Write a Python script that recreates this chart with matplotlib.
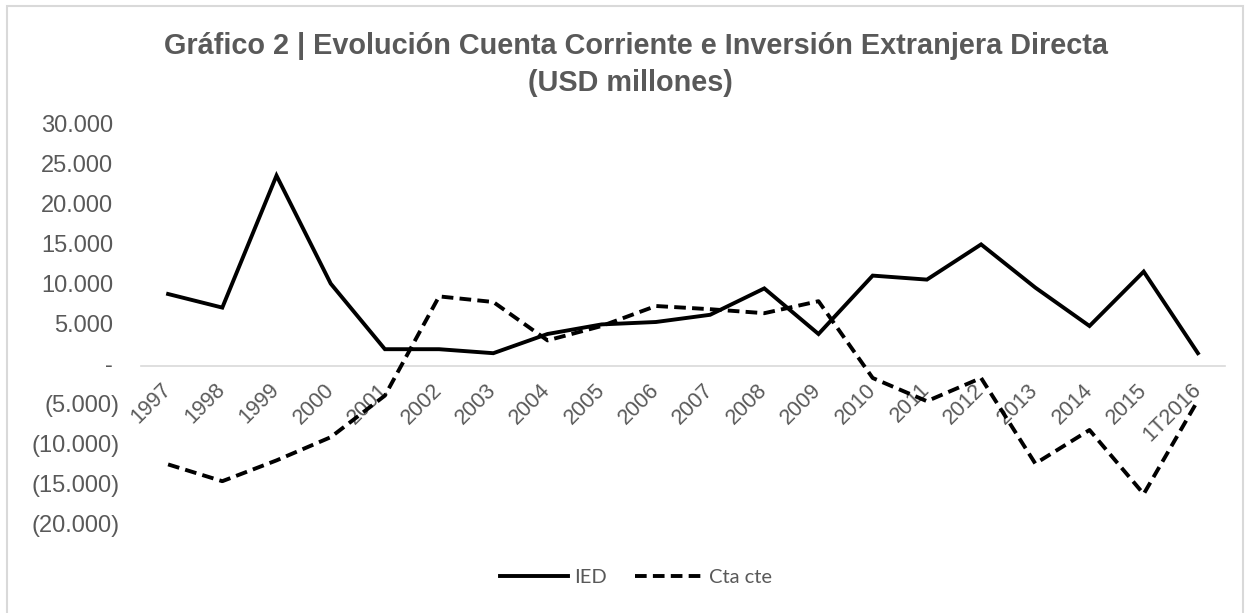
import matplotlib
matplotlib.use("Agg")
import matplotlib.pyplot as plt
from matplotlib.patches import Rectangle

categories = ["1997", "1998", "1999", "2000", "2001", "2002", "2003", "2004", "2005", "2006",
              "2007", "2008", "2009", "2010", "2011", "2012", "2013", "2014", "2015", "1T2016"]
ied = [9000, 7300, 23800, 10300, 2100, 2100, 1600, 4000, 5200, 5500,
       6400, 9700, 4000, 11300, 10800, 15200, 9800, 5000, 11800, 1600]
cta_cte = [-12300, -14400, -11800, -8900, -3700, 8700, 8000, 3200, 5000, 7500,
           7100, 6600, 8100, -1500, -4400, -1500, -12200, -8000, -16000, -4300]
y_ticks = [-20000, -15000, -10000, -5000, 0, 5000, 10000, 15000, 20000, 25000, 30000]

title_line1 = "Gráfico 2 | Evolución Cuenta Corriente e Inversión Extranjera Directa"
title_line2 = "(USD millones)"

W, H = 1253, 613
fig = plt.figure(figsize=(W / 100, H / 100), dpi=100)
gray = "#595959"

def fmt(v):
    s = f"{abs(v):,}".replace(",", ".")
    if v == 0:
        return "-"
    return f"({s})" if v < 0 else s

ax = fig.add_axes([141 / W, 1 - 526 / H, (1225 - 141) / W, (526 - 126) / H])
x = list(range(len(categories)))
ax.plot(x, ied, color="black", lw=2.8, solid_joinstyle="miter", label="IED")
ax.plot(x, cta_cte, color="black", lw=2.8, linestyle=(0, (3.0, 1.6)), dash_capstyle="butt",
        label="Cta cte")

ax.set_xlim(-0.5, len(categories) - 0.5)
ax.set_ylim(-20000, 30000)
for s in ["top", "right", "left"]:
    ax.spines[s].set_visible(False)
ax.spines["bottom"].set_position(("data", 0))
ax.spines["bottom"].set_color("#d9d9d9")
ax.spines["bottom"].set_linewidth(1.2)
ax.spines["bottom"].set_zorder(0)

ax.set_xticks(x)
ax.set_xticklabels(categories, rotation=45, ha="right", va="center", rotation_mode="anchor",
                   fontsize=15.5, color=gray, family="Liberation Sans")
ax.tick_params(axis="x", length=0, pad=15)

ax.set_yticks(y_ticks)
ax.set_yticklabels([])
ax.tick_params(axis="y", length=0)
for v in y_ticks:
    xoff = -21 if v < 0 else -28
    ax.annotate(fmt(v), xy=(0, v), xycoords=("axes fraction", "data"),
                xytext=(xoff * 0.72, 0), textcoords="offset points",
                ha="right", va="center", fontsize=17, color=gray, family="Liberation Sans")

fig.text(636 / W, 1 - 54 / H, title_line1, ha="center", va="baseline", fontsize=20.8,
         fontweight="bold", color=gray, family="Liberation Sans")
fig.text(630 / W, 1 - 91 / H, title_line2, ha="center", va="baseline", fontsize=20.8,
         fontweight="bold", color=gray, family="Liberation Sans")

fig.legend(loc="center", bbox_to_anchor=(636 / W, 1 - 577 / H), ncol=2, frameon=False,
           prop={"family": "Lato", "size": 14.5}, labelcolor=gray,
           handlelength=3.4, handletextpad=0.3, columnspacing=1.4)

fig.patches.append(Rectangle((7 / W, -0.05), (1243 - 7) / W, 1.05 - 6 / H,
                             transform=fig.transFigure, fill=False, edgecolor="#d9d9d9",
                             lw=1.5, zorder=-1))

fig.savefig("out.png", dpi=100)
